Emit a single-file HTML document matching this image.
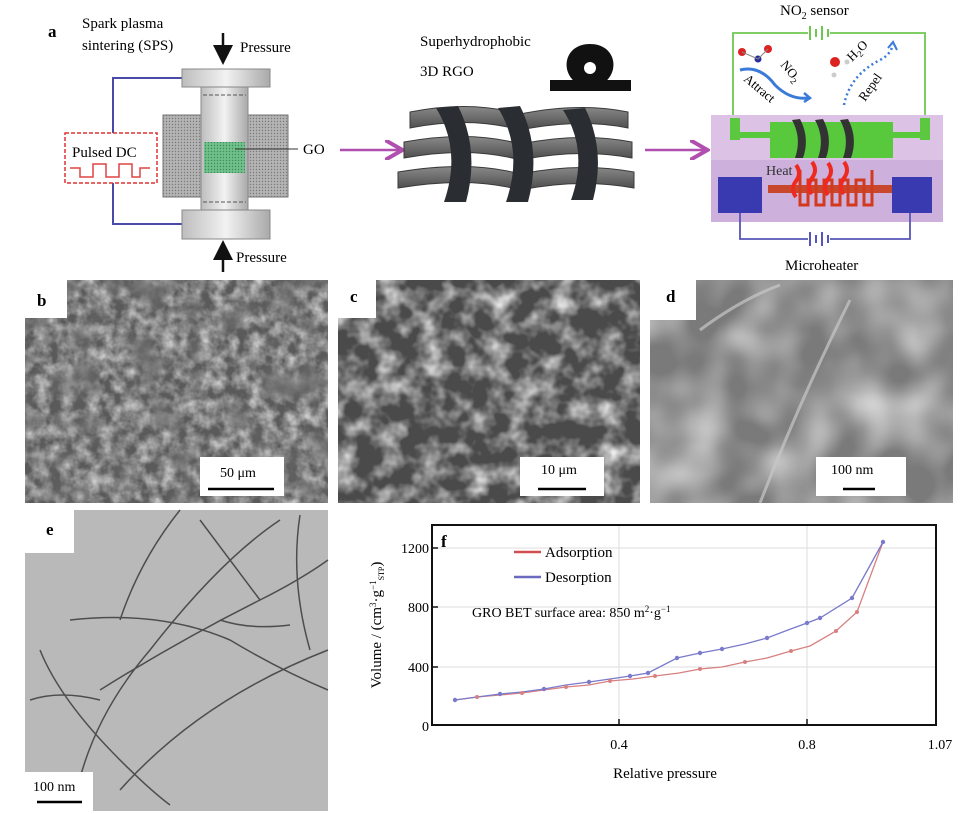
<!DOCTYPE html>
<html><head><meta charset="utf-8"><style>
html,body{margin:0;padding:0;background:#fff;}
svg{display:block;font-family:"Liberation Serif",serif;}
</style></head><body>
<svg width="973" height="814" viewBox="0 0 973 814" xmlns="http://www.w3.org/2000/svg">
<defs>
<filter id="tb" x="0" y="0" width="100%" height="100%"><feTurbulence type="fractalNoise" baseFrequency="0.08" numOctaves="3" seed="3"/><feColorMatrix type="matrix" values="0 0 0 0 0.6  0 0 0 0 0.6  0 0 0 0 0.6  1.8 0 0 0 -0.55"/></filter>
<filter id="tb2" x="0" y="0" width="100%" height="100%"><feTurbulence type="fractalNoise" baseFrequency="0.03" numOctaves="2" seed="5"/><feColorMatrix type="matrix" values="0 0 0 0 0.15  0 0 0 0 0.15  0 0 0 0 0.15  2.5 0 0 0 -1.2"/></filter>
<filter id="tc" x="0" y="0" width="100%" height="100%"><feTurbulence type="fractalNoise" baseFrequency="0.045" numOctaves="3" seed="7"/><feColorMatrix type="matrix" values="0 0 0 0 0.85  0 0 0 0 0.85  0 0 0 0 0.85  2 0 0 0 -0.8"/></filter>
<filter id="td" x="0" y="0" width="100%" height="100%"><feTurbulence type="fractalNoise" baseFrequency="0.018" numOctaves="2" seed="11"/><feColorMatrix type="matrix" values="0 0 0 0 0.92  0 0 0 0 0.92  0 0 0 0 0.92  1.3 0 0 0 -0.45"/></filter>
<pattern id="dots" width="3" height="3" patternUnits="userSpaceOnUse"><rect width="3" height="3" fill="#b4b4b4"/><circle cx="1.5" cy="1.5" r="0.7" fill="#7a7a7a"/></pattern>
<pattern id="gdots" width="3" height="3" patternUnits="userSpaceOnUse"><rect width="3" height="3" fill="#6fc08a"/><circle cx="1.5" cy="1.5" r="0.7" fill="#3d8a5a"/></pattern>
<linearGradient id="metal" x1="0" x2="1"><stop offset="0" stop-color="#bdbdbd"/><stop offset="0.5" stop-color="#f2f2f2"/><stop offset="1" stop-color="#a9a9a9"/></linearGradient>
<linearGradient id="sheet" x1="0" y1="0" x2="0" y2="1"><stop offset="0" stop-color="#8a8a8a"/><stop offset="1" stop-color="#4a4a4a"/></linearGradient>
<marker id="pa" markerWidth="8" markerHeight="8" refX="6" refY="4" orient="auto"><path d="M0,0 L7,4 L0,8" fill="none" stroke="#b04fb0" stroke-width="1.6"/></marker>
<marker id="ba" markerWidth="8" markerHeight="8" refX="4" refY="4" orient="auto"><path d="M0,0 L8,4 L0,8z" fill="#111"/></marker>
</defs>

<!-- Panel a -->
<text x="48" y="37" font-size="17" font-weight="bold">a</text>
<text x="82" y="28" font-size="15">Spark plasma</text>
<text x="82" y="50" font-size="15">sintering (SPS)</text>
<line x1="223" y1="33" x2="223" y2="55" stroke="#111" stroke-width="2.5" marker-end="url(#ba)"/>
<text x="240" y="52" font-size="15">Pressure</text>
<line x1="223" y1="272" x2="223" y2="250" stroke="#111" stroke-width="2.5" marker-end="url(#ba)"/>
<text x="236" y="262" font-size="15">Pressure</text>
<path d="M182,78 H113 V133 M113,183 V224 H182" fill="none" stroke="#4a4aa8" stroke-width="2"/>
<rect x="163" y="115" width="125" height="82" fill="url(#dots)" stroke="#777"/>
<rect x="201" y="87" width="47" height="123" fill="url(#metal)" stroke="#888"/>
<rect x="204" y="142" width="41" height="31" fill="url(#gdots)"/>
<line x1="203" y1="95" x2="246" y2="95" stroke="#555" stroke-dasharray="4 2"/>
<line x1="203" y1="202" x2="246" y2="202" stroke="#555" stroke-dasharray="4 2"/>
<rect x="182" y="69" width="88" height="18" fill="url(#metal)" stroke="#888"/>
<rect x="182" y="210" width="88" height="29" fill="url(#metal)" stroke="#888"/>
<rect x="65" y="133" width="92" height="50" fill="#fff" stroke="#d33" stroke-width="1.5" stroke-dasharray="4 2"/>
<text x="72" y="157" font-size="15">Pulsed DC</text>
<path d="M70,168 H80 V177 H93 V164 H106 V177 H119 V164 H132 V177 H140 V168 H150" fill="none" stroke="#d44" stroke-width="1.5"/>
<line x1="235" y1="149" x2="298" y2="149" stroke="#333" stroke-width="1"/>
<text x="303" y="154" font-size="15">GO</text>
<line x1="340" y1="150" x2="400" y2="150" stroke="#b04fb0" stroke-width="2.5" marker-end="url(#pa)"/>
<line x1="645" y1="150" x2="705" y2="150" stroke="#b04fb0" stroke-width="2.5" marker-end="url(#pa)"/>

<text x="420" y="46" font-size="15">Superhydrophobic</text>
<text x="420" y="76" font-size="15">3D RGO</text>
<rect x="550" y="80" width="81" height="11" fill="#111"/>
<path d="M575,82 C560,70 565,44 590,44 C615,44 620,70 605,82 Z" fill="#111"/>
<circle cx="590" cy="68" r="6" fill="#fff"/>
<g fill="url(#sheet)" stroke="#3a3a3a" stroke-width="1">
<path d="M410,112 Q470,100 520,114 Q580,102 628,112 L628,128 Q580,118 520,130 Q470,116 410,128Z"/>
<path d="M404,142 Q470,130 520,144 Q580,132 632,142 L632,158 Q580,148 520,160 Q470,146 404,158Z"/>
<path d="M398,172 Q470,160 520,174 Q580,162 634,172 L634,188 Q580,178 520,190 Q470,176 398,188Z"/>
</g>
<g fill="#2a2e33">
<path d="M436,108 Q462,150 444,202 L466,202 Q480,150 458,106Z"/>
<path d="M498,108 Q524,150 506,202 L528,202 Q542,150 520,106Z"/>
<path d="M563,110 Q589,150 571,200 L593,200 Q606,150 585,108Z"/>
</g>

<!-- Sensor -->
<text x="780" y="15" font-size="15">NO<tspan font-size="10" dy="4">2</tspan><tspan dy="-4"> sensor</tspan></text>
<path d="M733,118 V33 H808 M830,33 H925 V118" fill="none" stroke="#6ec850" stroke-width="1.8"/>
<line x1="810" y1="26" x2="810" y2="40" stroke="#6ec850" stroke-width="2"/><line x1="816" y1="29" x2="816" y2="37" stroke="#6ec850" stroke-width="2"/><line x1="822" y1="26" x2="822" y2="40" stroke="#6ec850" stroke-width="2"/><line x1="828" y1="29" x2="828" y2="37" stroke="#6ec850" stroke-width="2"/>
<rect x="711" y="115" width="232" height="107" fill="#dcc3e6"/>
<rect x="711" y="160" width="232" height="62" fill="#cdb0dc"/>
<rect x="730" y="118" width="10" height="22" fill="#5cc840"/><rect x="920" y="118" width="10" height="22" fill="#5cc840"/>
<path d="M740,132 H770 V122 H893 V132 H920 V138 H893 V158 H770 V138 H740Z" fill="#58c83c"/>
<g fill="#333"><path d="M792,120 Q802,138 795,158 L803,158 Q810,138 800,119Z"/><path d="M815,120 Q825,138 818,158 L826,158 Q833,138 823,119Z"/><path d="M840,120 Q850,138 843,158 L851,158 Q858,138 848,119Z"/></g>
<text x="766" y="175" font-size="14" fill="#333">Heat</text>
<rect x="768" y="185" width="140" height="8" fill="#c8482e"/>
<path d="M800,170 V205 H808 V180 H816 V205 H824 V180 H832 V205 H840 V180 H848 V205 H856 V180 H864 V205 H872 V170" fill="none" stroke="#d23a1e" stroke-width="3"/>
<g stroke="#ee2a20" stroke-width="4" fill="none"><path d="M796,165 q6,8 0,16 q-6,8 0,16"/><path d="M812,162 q6,8 0,16 q-6,8 0,16"/><path d="M828,163 q6,8 0,16 q-6,8 0,16"/><path d="M844,162 q6,8 0,16 q-6,8 0,16"/></g>
<rect x="718" y="177" width="44" height="36" fill="#3a3ab0"/><rect x="892" y="177" width="40" height="36" fill="#3a3ab0"/>
<path d="M740,213 V239 H808 M830,239 H910 V213" fill="none" stroke="#5656b8" stroke-width="1.8"/>
<line x1="810" y1="232" x2="810" y2="246" stroke="#5656b8" stroke-width="2"/><line x1="816" y1="235" x2="816" y2="243" stroke="#5656b8" stroke-width="2"/><line x1="822" y1="232" x2="822" y2="246" stroke="#5656b8" stroke-width="2"/><line x1="828" y1="235" x2="828" y2="243" stroke="#5656b8" stroke-width="2"/>
<text x="785" y="270" font-size="15">Microheater</text>
<circle cx="742" cy="52" r="4" fill="#d22"/><circle cx="758" cy="59" r="3.5" fill="#2a2a9a"/><circle cx="768" cy="49" r="4" fill="#d22"/><path d="M742,52 L758,59 L768,49" stroke="#888" fill="none"/>
<circle cx="835" cy="62" r="5" fill="#d22"/><circle cx="847" cy="62" r="2.5" fill="#ccc"/><circle cx="834" cy="75" r="2.5" fill="#ccc"/>
<path d="M740,70 Q760,65 775,85 Q790,100 808,98" fill="none" stroke="#3a7ad8" stroke-width="3"/>
<path d="M804,93 L810,98 L804,102" fill="none" stroke="#3a7ad8" stroke-width="2.5"/>
<path d="M844,105 Q850,75 880,60 Q890,55 893,45" fill="none" stroke="#3a7ad8" stroke-width="2.5" stroke-dasharray="2 3"/>
<path d="M888,48 L893,42 L897,50" fill="none" stroke="#3a7ad8" stroke-width="2"/>
<text transform="translate(743,80) rotate(40)" font-size="13">Attract</text>
<text transform="translate(780,65) rotate(50)" font-size="13">NO<tspan font-size="9" dy="3">2</tspan></text>
<text transform="translate(852,62) rotate(-45)" font-size="13">H<tspan font-size="9" dy="3">2</tspan><tspan dy="-3">O</tspan></text>
<text transform="translate(865,102) rotate(-55)" font-size="13">Repel</text>

<!-- b -->
<rect x="25" y="280" width="303" height="223" fill="#5a5a5a"/>
<rect x="25" y="280" width="303" height="223" filter="url(#tb)"/>
<rect x="25" y="280" width="303" height="223" filter="url(#tb2)"/>
<rect x="25" y="280" width="42" height="38" fill="#fff"/><text x="37" y="306" font-size="17" font-weight="bold">b</text>
<rect x="200" y="457" width="84" height="39" fill="#fff"/><text x="220" y="477" font-size="14">50 μm</text><line x1="208" y1="489" x2="274" y2="489" stroke="#000" stroke-width="2.5"/>
<!-- c -->
<rect x="338" y="280" width="302" height="223" fill="#4a4a4a"/>
<rect x="338" y="280" width="302" height="223" filter="url(#tc)"/>
<rect x="338" y="280" width="38" height="38" fill="#fff"/><text x="350" y="302" font-size="17" font-weight="bold">c</text>
<rect x="520" y="457" width="84" height="39" fill="#fff"/><text x="541" y="474" font-size="14">10 μm</text><line x1="538" y1="489" x2="586" y2="489" stroke="#000" stroke-width="2.5"/>
<!-- d -->
<rect x="650" y="280" width="303" height="223" fill="#7a7a7a"/>
<rect x="650" y="280" width="303" height="223" filter="url(#td)"/>
<g stroke="#c8c8c8" stroke-width="3" fill="none" opacity="0.7"><path d="M760,503 Q800,400 850,300"/><path d="M700,330 Q740,300 780,285"/></g>
<rect x="650" y="280" width="46" height="40" fill="#fff"/><text x="666" y="302" font-size="17" font-weight="bold">d</text>
<rect x="816" y="457" width="90" height="39" fill="#fff"/><text x="831" y="474" font-size="14">100 nm</text><line x1="843" y1="489" x2="875" y2="489" stroke="#000" stroke-width="2.5"/>
<!-- e -->
<rect x="25" y="510" width="303" height="301" fill="#b9b9b9"/>
<g stroke="#333" fill="none" stroke-width="1.5" opacity="0.8">
<path d="M100,690 Q180,640 260,600 Q300,580 328,560"/><path d="M70,620 Q160,610 230,640 Q280,670 328,690"/><path d="M75,800 Q90,720 150,650 Q220,560 280,520"/><path d="M30,700 Q60,690 100,700"/><path d="M120,790 Q200,700 328,650"/><path d="M180,510 Q140,560 120,620"/><path d="M220,620 Q250,630 290,625"/>
<path d="M40,650 Q60,700 120,760 Q150,790 170,805"/><path d="M200,520 Q230,560 260,600"/><path d="M300,515 Q290,580 310,650"/>
</g>
<rect x="25" y="510" width="49" height="43" fill="#fff"/><text x="46" y="535" font-size="17" font-weight="bold">e</text>
<rect x="25" y="772" width="68" height="39" fill="#fff"/><text x="33" y="791" font-size="14">100 nm</text><line x1="37" y1="802" x2="82" y2="802" stroke="#000" stroke-width="2.5"/>

<!-- f chart -->
<g stroke="#ddd" stroke-width="1"><line x1="432" y1="548" x2="936" y2="548"/><line x1="432" y1="607" x2="936" y2="607"/><line x1="432" y1="667" x2="936" y2="667"/><line x1="619" y1="525" x2="619" y2="725"/><line x1="807" y1="525" x2="807" y2="725"/></g>
<rect x="432" y="525" width="504" height="200" fill="none" stroke="#111" stroke-width="2"/>
<g stroke="#111" stroke-width="1.5"><line x1="432" y1="548" x2="438" y2="548"/><line x1="432" y1="607" x2="438" y2="607"/><line x1="432" y1="667" x2="438" y2="667"/><line x1="619" y1="725" x2="619" y2="719"/><line x1="807" y1="725" x2="807" y2="719"/></g>
<text x="441" y="547" font-size="17" font-weight="bold">f</text>
<g font-size="14" text-anchor="end"><text x="429" y="553">1200</text><text x="429" y="612">800</text><text x="429" y="672">400</text><text x="429" y="731">0</text></g>
<g font-size="14" text-anchor="middle"><text x="619" y="749">0.4</text><text x="807" y="749">0.8</text><text x="940" y="749">1.07</text></g>
<text x="665" y="778" font-size="15" text-anchor="middle">Relative pressure</text>
<text transform="translate(381,625) rotate(-90)" font-size="15" text-anchor="middle">Volume / (cm<tspan font-size="9" dy="-5">3</tspan><tspan dy="5">·g</tspan><tspan font-size="9" dy="-5">−1</tspan><tspan font-size="8" dy="8">STP</tspan><tspan dy="-3">)</tspan></text>
<line x1="514" y1="552" x2="541" y2="552" stroke="#d05050" stroke-width="2.5"/><text x="545" y="557" font-size="15">Adsorption</text>
<line x1="514" y1="577" x2="541" y2="577" stroke="#6a6ac0" stroke-width="2.5"/><text x="545" y="582" font-size="15">Desorption</text>
<text x="472" y="617" font-size="14">GRO BET surface area: 850 m<tspan font-size="9" dy="-5">2</tspan><tspan dy="5">·g</tspan><tspan font-size="9" dy="-5">−1</tspan></text>
<polyline fill="none" stroke="#d88080" stroke-width="1.3" points="455,700 477,697 500,695 522,693 544,690 566,687 589,685 610,681 633,679 655,676 679,673 700,669 722,667 745,662 767,658 791,651 810,646 836,631 857,612 883,542"/>
<polyline fill="none" stroke="#7a7acc" stroke-width="1.3" points="455,700 477,697 500,694 522,692 544,689 566,685 589,682 610,679 630,676 648,673 677,658 700,653 722,649 745,644 767,638 788,630 807,623 820,618 852,598 883,542"/>
<g fill="#d88080"><circle cx="477" cy="697" r="2"/><circle cx="522" cy="693" r="2"/><circle cx="566" cy="687" r="2"/><circle cx="610" cy="681" r="2"/><circle cx="655" cy="676" r="2"/><circle cx="700" cy="669" r="2"/><circle cx="745" cy="662" r="2"/><circle cx="791" cy="651" r="2"/><circle cx="836" cy="631" r="2"/><circle cx="857" cy="612" r="2"/></g>
<g fill="#7a7acc"><circle cx="455" cy="700" r="2.2"/><circle cx="500" cy="694" r="2.2"/><circle cx="544" cy="689" r="2.2"/><circle cx="589" cy="682" r="2.2"/><circle cx="630" cy="676" r="2.2"/><circle cx="648" cy="673" r="2.2"/><circle cx="677" cy="658" r="2.2"/><circle cx="700" cy="653" r="2.2"/><circle cx="722" cy="649" r="2.2"/><circle cx="767" cy="638" r="2.2"/><circle cx="807" cy="623" r="2.2"/><circle cx="820" cy="618" r="2.2"/><circle cx="852" cy="598" r="2.2"/><circle cx="883" cy="542" r="2.2"/></g>
</svg>
</body></html>
